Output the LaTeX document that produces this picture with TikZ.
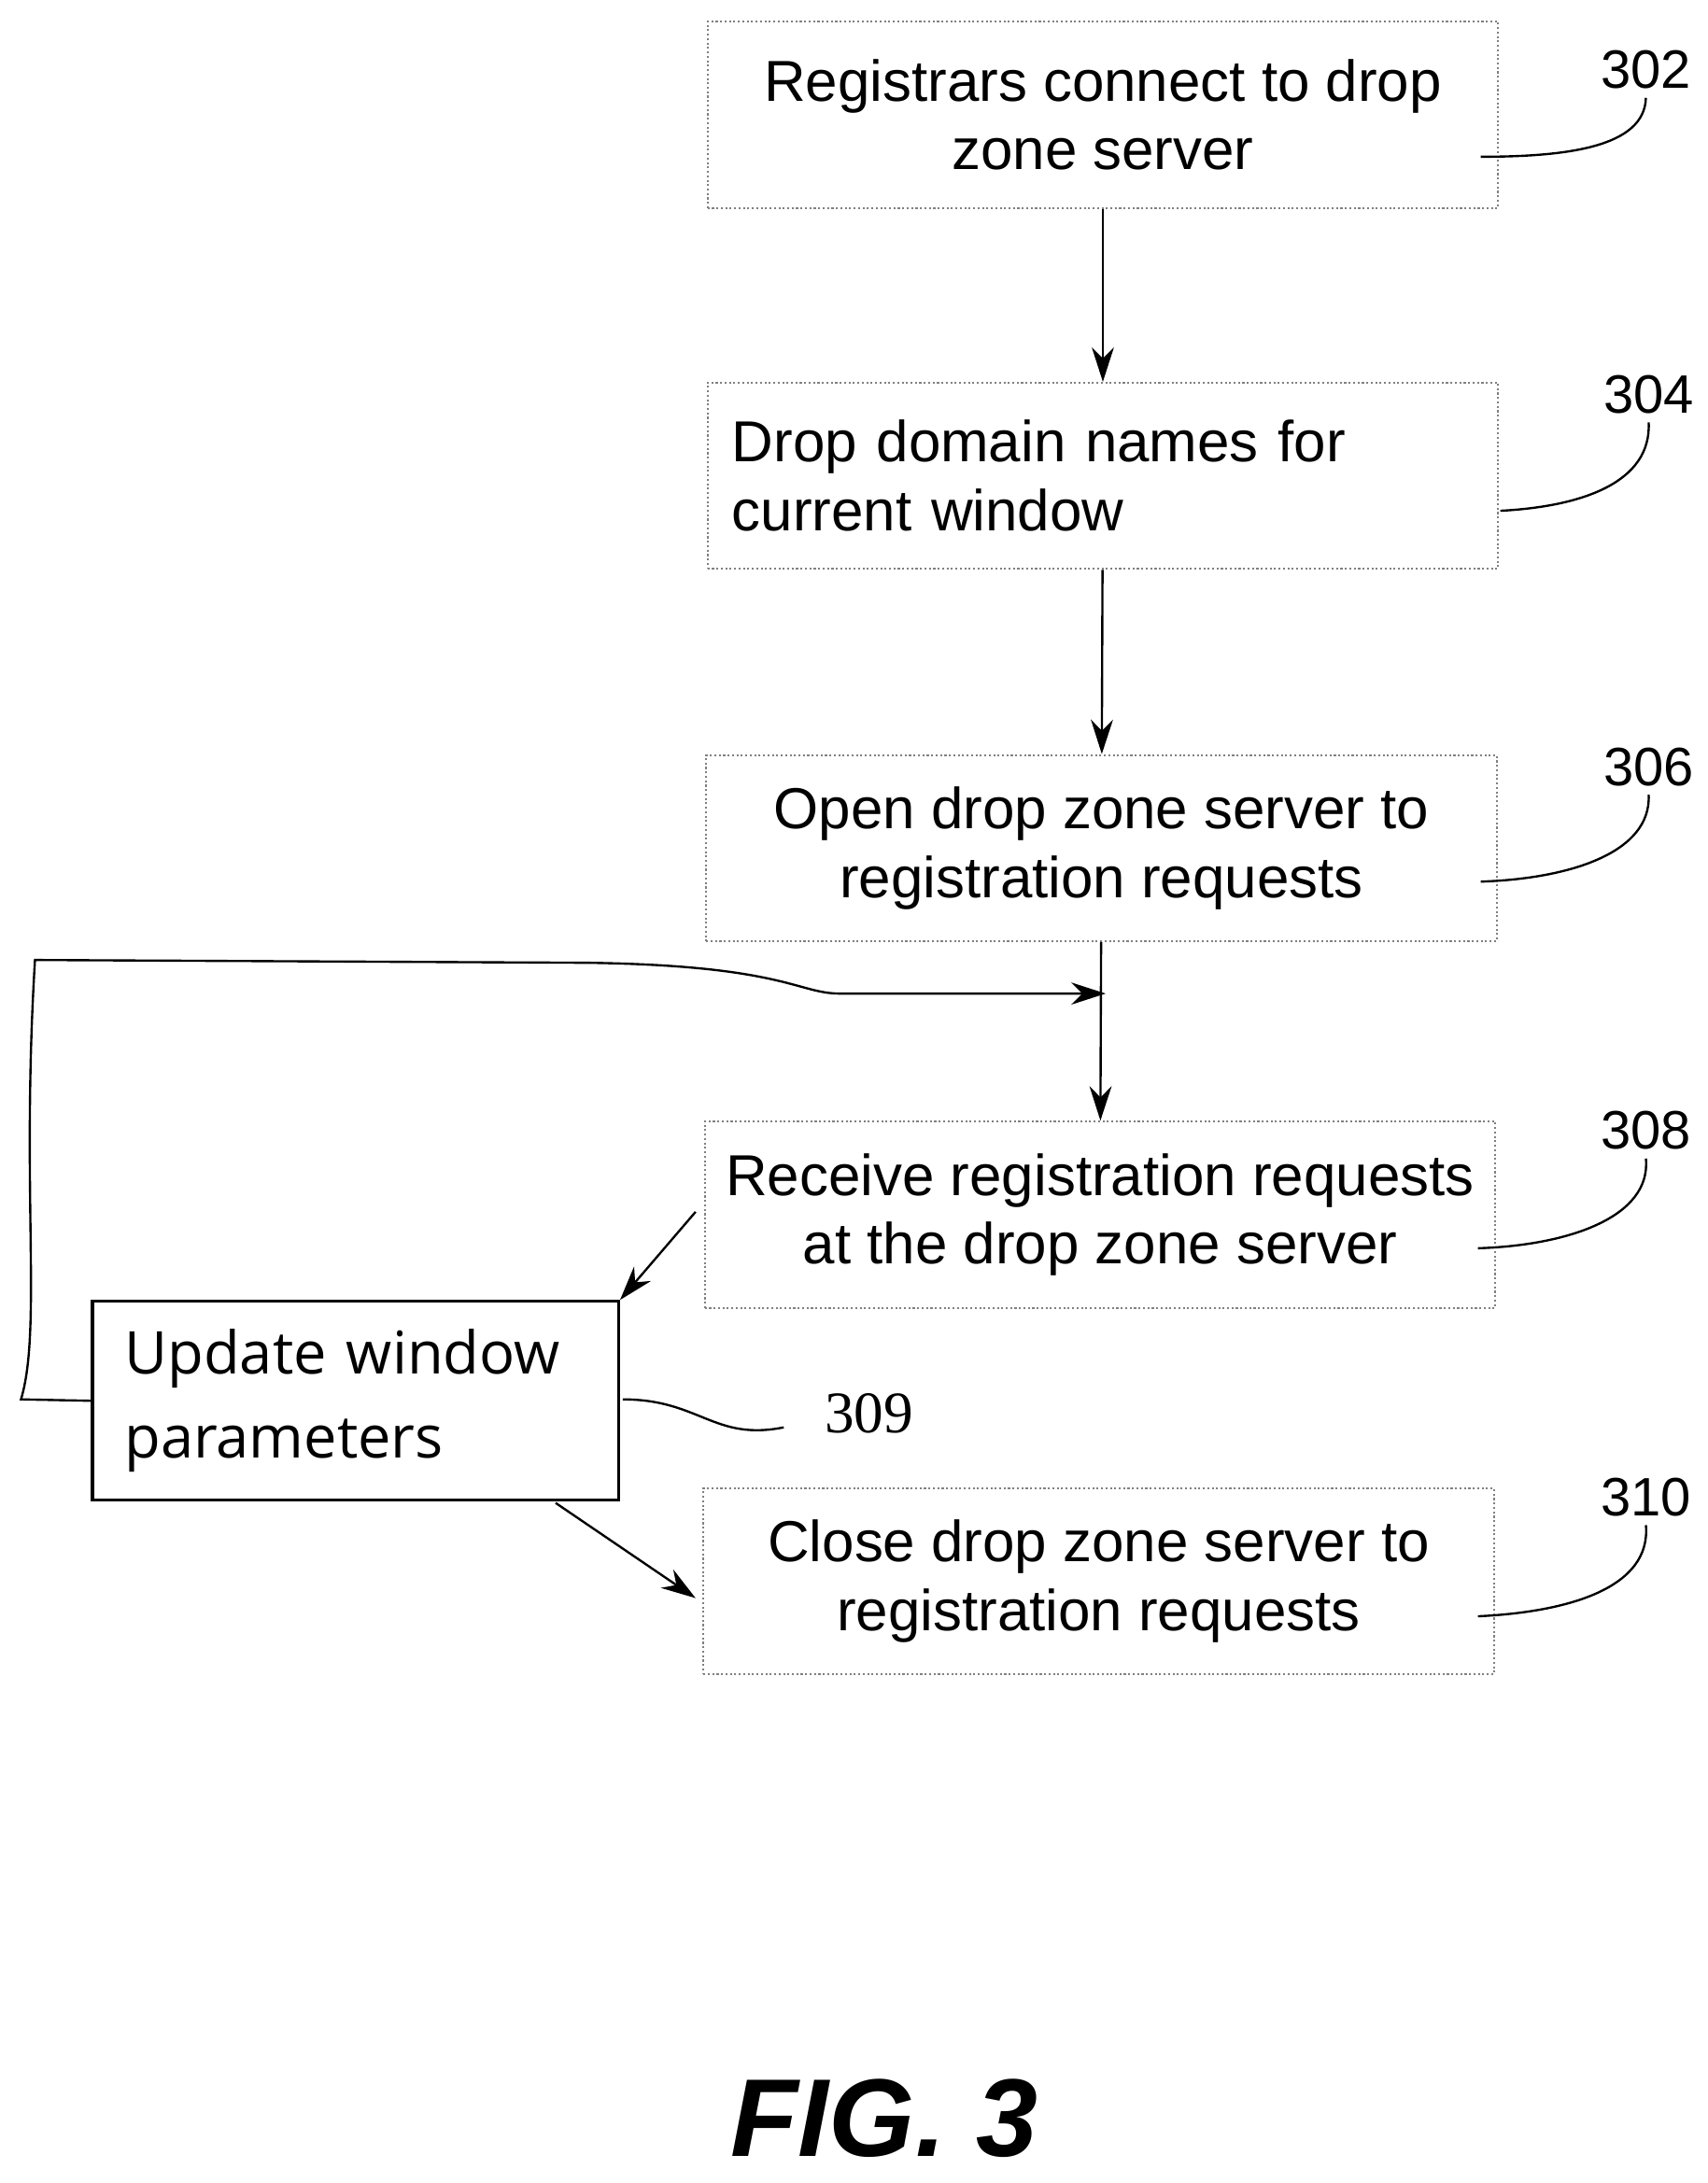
\documentclass[tikz,border=0pt]{standalone}
\usepackage{fontspec}
\setmainfont{Liberation Sans}
\newfontfamily\upfont{Open Sans}
\newfontfamily\numfont{Liberation Serif}
\usetikzlibrary{arrows.meta}
\begin{document}
\begin{tikzpicture}[x=0.02cm,y=-0.02cm,
  box/.style={draw=gray,densely dotted,line width=0.8pt,minimum width=11.3cm,minimum height=2.66cm,align=center,font=\fontsize{23.5}{28}\selectfont},
  arr/.style={-{Stealth[length=14pt,width=9pt]},line width=0.9pt},
  lead/.style={line width=0.9pt},
  lbl/.style={font=\fontsize{22}{26}\selectfont}]
\useasboundingbox (0,0) rectangle (1220,1560);
\node[box] (b302) at (788,82) {Registrars connect to drop\\zone server};
\node[box,align=left,text width=10.6cm] (b304) at (788,340) {Drop domain names for\\current window};
\node[box] (b306) at (787,606) {Open drop zone server to\\registration requests};
\node[box] (b308) at (786,868) {Receive registration requests\\at the drop zone server};
\node[box] (b310) at (785,1130) {Close drop zone server to\\registration requests};
\node[draw,line width=1.2pt,minimum width=7.52cm,minimum height=2.84cm,align=left,text width=6.6cm,font=\upfont\fontsize{24}{34}\selectfont] (b309) at (254,1001) {Update window\\parameters};
\draw[arr] (b302) -- (b304);
\draw[arr] (b304) -- (b306);
\draw[arr] (b306) -- (b308);
\coordinate (m) at (790,710);
\draw[arr] (b309.west) -- (15,1000) .. controls (30,950) and (15,850) .. (25,686) -- (420,688) .. controls (560,690) and (570,710) .. (600,710) -- (m);
\draw[arr] (497,866) -- (b309.north east);
\draw[arr] (397,1074) -- (497,1142);
\node[lbl] (n302) at (1176,50) {302};
\node[lbl] (n304) at (1178,282) {304};
\node[lbl] (n306) at (1178,548) {306};
\node[lbl] (n308) at (1176,808) {308};
\node[lbl] (n310) at (1176,1070) {310};
\node[font=\numfont\fontsize{24}{28}\selectfont] (n309) at (621,1010) {309};
\draw[lead] (1058,112) .. controls (1120,112) and (1175,105) .. (n302.south);
\draw[lead] (1072,365) .. controls (1130,362) and (1180,345) .. (n304.south);
\draw[lead] (1058,630) .. controls (1120,628) and (1180,610) .. (n306.south);
\draw[lead] (1056,892) .. controls (1120,890) and (1180,870) .. (n308.south);
\draw[lead] (1056,1155) .. controls (1120,1152) and (1180,1135) .. (n310.south);
\draw[lead] (445,1000) .. controls (500,1000) and (510,1030) .. (560,1020);
\node[font=\bfseries\itshape\fontsize{45}{52}\selectfont] (fig) at (632,1514) {FIG. 3};
\end{tikzpicture}
\end{document}
